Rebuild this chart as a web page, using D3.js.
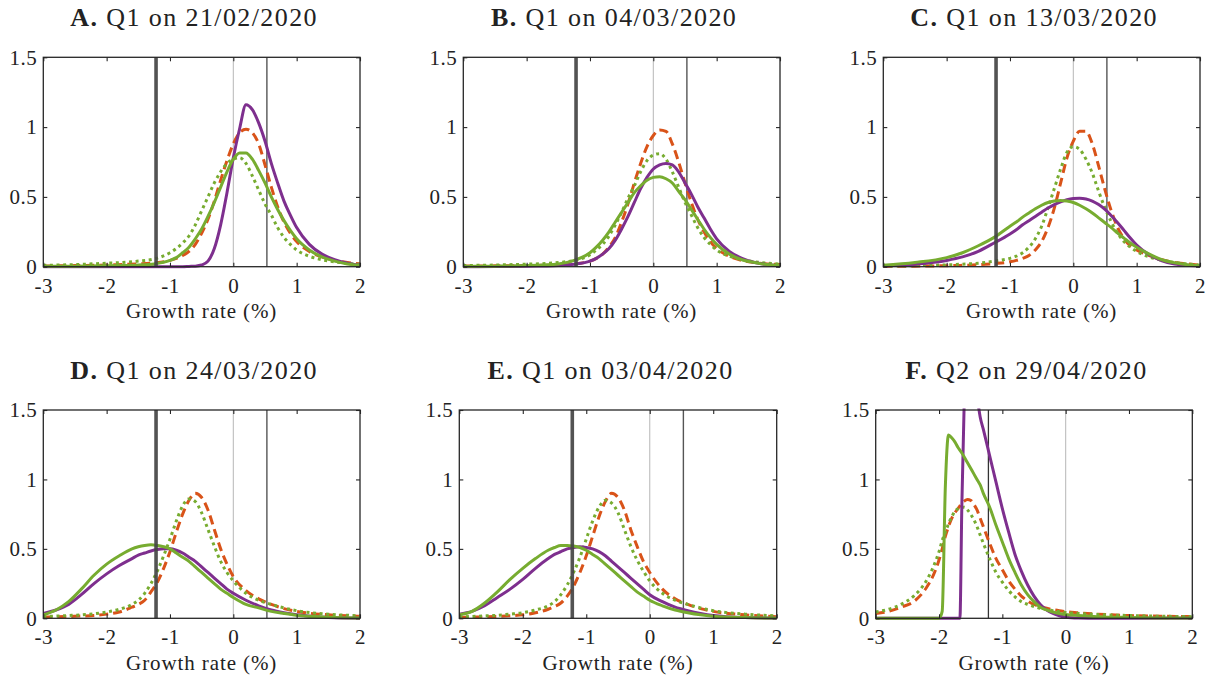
<!DOCTYPE html>
<html>
<head>
<meta charset="utf-8">
<script src="https://cdn.jsdelivr.net/npm/d3@7"></script>
<style>
  body { margin: 0; background: #fff; }
  svg { display: block; }
  text { font-family: "Liberation Serif", "Times New Roman", serif; fill: #222; }
</style>
</head>
<body>
<div id="chart"></div>
<script>
// chart size
const width = 1210,
  height = 680

// x grids (growth rate, %) the curves were read on
const gridABC = [-3, -2.5, -2, -1.75, -1.5, -1.25, -1, -0.9, -0.8, -0.7, -0.6, -0.5, -0.4, -0.3, -0.2, -0.1,
  0, 0.1, 0.2, 0.3, 0.4, 0.5, 0.6, 0.7, 0.8, 0.9, 1, 1.2, 1.4, 1.6, 1.8, 2]
const gridDE = [-3, -2.8, -2.6, -2.4, -2.2, -2, -1.8, -1.6, -1.5, -1.4, -1.3, -1.2, -1.1, -1, -0.9, -0.8,
  -0.7, -0.6, -0.5, -0.4, -0.3, -0.2, -0.1, 0, 0.2, 0.4, 0.6, 0.8, 1, 1.5, 2]
const gridF = [-3, -2.8, -2.6, -2.4, -2.2, -2.1, -2, -1.95, -1.9, -1.85, -1.8, -1.75, -1.7, -1.67, -1.64,
  -1.6, -1.55, -1.5, -1.45, -1.4, -1.35, -1.3, -1.2, -1.1, -1, -0.9, -0.8, -0.7, -0.6, -0.5, -0.4, -0.3,
  -0.2, -0.1, 0, 0.2, 0.5, 1, 1.5, 2]

// panel titles
const titleLetters = ['A.', 'B.', 'C.', 'D.', 'E.', 'F.']
const titleTexts = ['Q1 on 21/02/2020', 'Q1 on 04/03/2020', 'Q1 on 13/03/2020',
  'Q1 on 24/03/2020', 'Q1 on 03/04/2020', 'Q2 on 29/04/2020']

// ticks
const xTicks = [-3, -2, -1, 0, 1, 2]
const yTicks = [0, 0.5, 1, 1.5]
const xLabel = 'Growth rate (%)'

// reference lines
const refQ1 = [{ x: 0, kind: 'zero' }, { x: 0.53, kind: 'mid' }, { x: -1.22, kind: 'thick' }]
const refQ2 = [{ x: 0, kind: 'zero' }, { x: -1.22, kind: 'thin' }]

// densities, panel A
const purpleA = [0, 0, 0, 0, 0, 0, 0, 0, 0, 0.002, 0.004, 0.012, 0.04, 0.13, 0.3, 0.53, 0.78, 0.99, 1.16, 1.125,
  1.03, 0.9, 0.74, 0.6, 0.47, 0.37, 0.28, 0.16, 0.09, 0.05, 0.025, 0.01]
const orangeA = [0.005, 0.008, 0.012, 0.016, 0.02, 0.027, 0.045, 0.06, 0.08, 0.11, 0.16, 0.24, 0.34, 0.47, 0.62,
  0.76, 0.88, 0.96, 0.985, 0.96, 0.88, 0.73, 0.57, 0.43, 0.32, 0.24, 0.18, 0.11, 0.07, 0.045, 0.03, 0.02]
const greenA = [0.003, 0.004, 0.006, 0.008, 0.012, 0.02, 0.045, 0.065, 0.1, 0.14, 0.2, 0.27, 0.36, 0.46, 0.57,
  0.68, 0.77, 0.815, 0.815, 0.77, 0.69, 0.6, 0.5, 0.41, 0.33, 0.26, 0.2, 0.12, 0.07, 0.04, 0.02, 0.01]
const dottedA = [0.01, 0.015, 0.025, 0.03, 0.04, 0.055, 0.1, 0.13, 0.17, 0.22, 0.3, 0.4, 0.5, 0.6, 0.68, 0.74,
  0.77, 0.78, 0.74, 0.65, 0.55, 0.45, 0.37, 0.28, 0.21, 0.16, 0.12, 0.075, 0.05, 0.035, 0.025, 0.015]

// panel B
const purpleB = [0, 0.001, 0.003, 0.005, 0.008, 0.018, 0.04, 0.06, 0.09, 0.13, 0.19, 0.27, 0.36, 0.46, 0.56,
  0.64, 0.7, 0.73, 0.74, 0.73, 0.68, 0.6, 0.52, 0.43, 0.35, 0.27, 0.2, 0.11, 0.06, 0.03, 0.015, 0.005]
const orangeB = [0.005, 0.006, 0.008, 0.01, 0.013, 0.02, 0.04, 0.06, 0.09, 0.14, 0.21, 0.32, 0.45, 0.6, 0.74,
  0.86, 0.94, 0.98, 0.97, 0.88, 0.75, 0.6, 0.46, 0.34, 0.25, 0.18, 0.13, 0.075, 0.045, 0.03, 0.02, 0.015]
const greenB = [0.002, 0.004, 0.008, 0.012, 0.02, 0.045, 0.1, 0.14, 0.19, 0.25, 0.32, 0.39, 0.46, 0.53, 0.58,
  0.62, 0.64, 0.645, 0.63, 0.6, 0.54, 0.48, 0.41, 0.34, 0.27, 0.21, 0.16, 0.09, 0.05, 0.03, 0.015, 0.008]
const dottedB = [0.008, 0.012, 0.018, 0.022, 0.03, 0.045, 0.085, 0.12, 0.16, 0.22, 0.3, 0.39, 0.49, 0.58, 0.68,
  0.76, 0.8, 0.81, 0.77, 0.68, 0.57, 0.46, 0.37, 0.28, 0.21, 0.16, 0.12, 0.075, 0.05, 0.035, 0.025, 0.018]

// panel C
const purpleC = [0.005, 0.018, 0.045, 0.07, 0.11, 0.17, 0.235, 0.265, 0.3, 0.33, 0.36, 0.39, 0.42, 0.445, 0.465,
  0.48, 0.488, 0.49, 0.485, 0.47, 0.445, 0.41, 0.365, 0.315, 0.26, 0.205, 0.155, 0.085, 0.042, 0.02, 0.01, 0.005]
const orangeC = [0.002, 0.004, 0.007, 0.01, 0.014, 0.022, 0.035, 0.045, 0.06, 0.08, 0.12, 0.18, 0.28, 0.42, 0.6,
  0.78, 0.9, 0.97, 0.97, 0.88, 0.72, 0.55, 0.4, 0.28, 0.2, 0.15, 0.12, 0.08, 0.05, 0.03, 0.02, 0.01]
const greenC = [0.01, 0.03, 0.065, 0.1, 0.15, 0.21, 0.29, 0.32, 0.355, 0.385, 0.415, 0.44, 0.46, 0.47, 0.475,
  0.47, 0.46, 0.44, 0.415, 0.385, 0.35, 0.315, 0.28, 0.24, 0.205, 0.17, 0.14, 0.09, 0.05, 0.028, 0.014, 0.007]
const dottedC = [0.005, 0.008, 0.013, 0.018, 0.025, 0.04, 0.06, 0.075, 0.1, 0.14, 0.2, 0.29, 0.42, 0.56, 0.7,
  0.82, 0.86, 0.84, 0.77, 0.67, 0.54, 0.42, 0.32, 0.24, 0.18, 0.14, 0.11, 0.07, 0.045, 0.03, 0.02, 0.012]

// panel D
const purpleD = [0.035, 0.06, 0.1, 0.17, 0.25, 0.32, 0.38, 0.43, 0.455, 0.47, 0.485, 0.495, 0.5, 0.5, 0.49,
  0.47, 0.44, 0.41, 0.37, 0.33, 0.29, 0.25, 0.21, 0.18, 0.13, 0.09, 0.06, 0.04, 0.025, 0.006, 0.001]
const orangeD = [0.008, 0.01, 0.013, 0.016, 0.02, 0.03, 0.045, 0.08, 0.1, 0.13, 0.19, 0.26, 0.36, 0.48, 0.62,
  0.75, 0.85, 0.9, 0.87, 0.78, 0.64, 0.5, 0.39, 0.3, 0.2, 0.14, 0.1, 0.07, 0.05, 0.025, 0.015]
const greenD = [0.025, 0.06, 0.12, 0.21, 0.31, 0.39, 0.45, 0.5, 0.515, 0.525, 0.53, 0.525, 0.515, 0.5, 0.47,
  0.44, 0.41, 0.37, 0.33, 0.29, 0.25, 0.21, 0.18, 0.15, 0.1, 0.075, 0.05, 0.035, 0.022, 0.008, 0.003]
const dottedD = [0.012, 0.016, 0.02, 0.025, 0.033, 0.045, 0.065, 0.1, 0.13, 0.18, 0.25, 0.34, 0.45, 0.57, 0.7,
  0.81, 0.86, 0.84, 0.76, 0.64, 0.52, 0.41, 0.33, 0.27, 0.18, 0.13, 0.1, 0.075, 0.055, 0.03, 0.018]

// panel E
const purpleE = [0.03, 0.05, 0.09, 0.15, 0.21, 0.28, 0.36, 0.43, 0.46, 0.48, 0.5, 0.51, 0.515, 0.51, 0.5, 0.48,
  0.45, 0.41, 0.37, 0.33, 0.29, 0.25, 0.21, 0.17, 0.12, 0.08, 0.055, 0.035, 0.02, 0.005, 0.001]
const orangeE = [0.006, 0.008, 0.01, 0.013, 0.018, 0.025, 0.04, 0.065, 0.085, 0.11, 0.16, 0.23, 0.33, 0.45, 0.59,
  0.73, 0.84, 0.9, 0.87, 0.78, 0.64, 0.52, 0.41, 0.33, 0.21, 0.14, 0.1, 0.07, 0.05, 0.025, 0.012]
const greenE = [0.025, 0.05, 0.11, 0.19, 0.28, 0.36, 0.43, 0.49, 0.51, 0.525, 0.525, 0.52, 0.51, 0.49, 0.46,
  0.43, 0.39, 0.35, 0.31, 0.27, 0.23, 0.19, 0.16, 0.13, 0.09, 0.06, 0.04, 0.025, 0.015, 0.005, 0.002]
const dottedE = [0.01, 0.013, 0.017, 0.022, 0.03, 0.04, 0.06, 0.09, 0.12, 0.17, 0.24, 0.33, 0.44, 0.57, 0.7, 0.8,
  0.85, 0.83, 0.76, 0.64, 0.52, 0.42, 0.34, 0.27, 0.18, 0.13, 0.1, 0.075, 0.055, 0.03, 0.018]

// panel F
const purpleF = [0, 0, 0, 0, 0, 0, 0, 0, 0, 0, 0, 0, 0, 0, 0.8, 1.6, 1.9, 1.85, 1.75, 1.6, 1.45, 1.36, 1.17, 0.98,
  0.79, 0.62, 0.46, 0.34, 0.24, 0.16, 0.1, 0.06, 0.035, 0.018, 0.008, 0.002, 0, 0, 0, 0]
const orangeF = [0.035, 0.05, 0.08, 0.12, 0.22, 0.3, 0.42, 0.5, 0.59, 0.66, 0.72, 0.76, 0.79, 0.81, 0.83, 0.845,
  0.855, 0.85, 0.82, 0.78, 0.72, 0.66, 0.54, 0.43, 0.35, 0.27, 0.21, 0.16, 0.125, 0.1, 0.085, 0.072, 0.062,
  0.055, 0.048, 0.04, 0.03, 0.02, 0.015, 0.012]
const greenF = [0, 0, 0, 0, 0, 0, 0, 0.05, 0.95, 1.32, 1.3, 1.27, 1.23, 1.21, 1.19, 1.16, 1.12, 1.08, 1.04, 1.0,
  0.96, 0.9, 0.8, 0.67, 0.55, 0.43, 0.33, 0.24, 0.17, 0.12, 0.08, 0.06, 0.045, 0.035, 0.028, 0.02, 0.012,
  0.006, 0.003, 0.002]
const dottedF = [0.045, 0.065, 0.1, 0.16, 0.27, 0.36, 0.48, 0.56, 0.62, 0.68, 0.73, 0.77, 0.79, 0.8, 0.8, 0.8,
  0.78, 0.75, 0.71, 0.66, 0.6, 0.54, 0.43, 0.33, 0.26, 0.2, 0.155, 0.12, 0.1, 0.085, 0.072, 0.062, 0.055,
  0.048, 0.042, 0.035, 0.028, 0.02, 0.015, 0.012]

// panel table built from the arrays above
const panelData = [
  { grid: gridABC, purple: purpleA, orange: orangeA, green: greenA, dotted: dottedA, refs: refQ1 },
  { grid: gridABC, purple: purpleB, orange: orangeB, green: greenB, dotted: dottedB, refs: refQ1 },
  { grid: gridABC, purple: purpleC, orange: orangeC, green: greenC, dotted: dottedC, refs: refQ1 },
  { grid: gridDE, purple: purpleD, orange: orangeD, green: greenD, dotted: dottedD, refs: refQ1 },
  { grid: gridDE, purple: purpleE, orange: orangeE, green: greenE, dotted: dottedE, refs: refQ1 },
  { grid: gridF, purple: purpleF, orange: orangeF, green: greenF, dotted: dottedF, refs: refQ2 }
]

// layout of each axes box: left, top, right, bottom
const boxes = [
  [43.3, 57.3, 360, 266.7], [463.3, 57.3, 780, 266.7], [883.3, 57.3, 1200, 266.7],
  [43.3, 410, 360, 618.3], [459.3, 410, 776.7, 618.3], [875.7, 410, 1192.3, 618.3]
]

const seriesStyle = {
  orange: { color: '#D95319', dash: '9,5' },
  dotted: { color: '#77AC30', dash: '3,3.6' },
  purple: { color: '#7E2F8E', dash: null },
  green: { color: '#77AC30', dash: null }
}
const refStyle = {
  zero: { color: '#bdbdbd', w: 1.1 },
  mid: { color: '#555', w: 1.4 },
  thin: { color: '#333', w: 1.3 },
  thick: { color: '#444', w: 3.6 }
}

let svg = d3.select('#chart')
  .append('svg')
  .attr('width', width)
  .attr('height', height)

panelData.forEach((p, i) => {
  const [l, t, r, b] = boxes[i]
  const w = r - l,
    h = b - t

  const xScale = d3.scaleLinear().domain([-3, 2]).range([0, w])
  const yScale = d3.scaleLinear().domain([0, 1.5]).range([h, 0])

  let g = svg.append('g').attr('transform', `translate(${l}, ${t})`)

  g.append('clipPath').attr('id', 'clip' + i)
    .append('rect')
    .attr('x', -2).attr('y', -1.5)
    .attr('width', w + 4).attr('height', h + 3.5)

  // lines under the curves
  p.refs.filter(d => d.kind !== 'thick').forEach(d => {
    g.append('line')
      .attr('x1', xScale(d.x)).attr('x2', xScale(d.x))
      .attr('y1', 0).attr('y2', h)
      .attr('stroke', refStyle[d.kind].color)
      .attr('stroke-width', refStyle[d.kind].w)
  })

  const line = d3.line()
    .x((d, j) => xScale(p.grid[j]))
    .y(d => yScale(d))
    .curve(d3.curveMonotoneX)

  let curves = g.append('g').attr('clip-path', `url(#clip${i})`)
  ;['orange', 'dotted', 'purple', 'green'].forEach(key => {
    curves.append('path')
      .attr('d', line(p[key]))
      .attr('fill', 'none')
      .attr('stroke', seriesStyle[key].color)
      .attr('stroke-width', 3)
      .attr('stroke-linejoin', 'round')
      .attr('stroke-dasharray', seriesStyle[key].dash)
  })

  // thick line on top
  p.refs.filter(d => d.kind === 'thick').forEach(d => {
    g.append('line')
      .attr('x1', xScale(d.x)).attr('x2', xScale(d.x))
      .attr('y1', 0).attr('y2', h)
      .attr('stroke', refStyle.thick.color)
      .attr('stroke-opacity', 0.92)
      .attr('stroke-width', refStyle.thick.w)
  })

  // axes, ticks inside on every side
  const bottom = g.append('g')
    .attr('transform', `translate(0, ${h})`)
    .call(d3.axisBottom(xScale).tickValues(xTicks).tickSizeInner(-4).tickSizeOuter(0)
      .tickPadding(11).tickFormat(d => String(d)))
  const left = g.append('g')
    .call(d3.axisLeft(yScale).tickValues(yTicks).tickSizeInner(-4).tickSizeOuter(0)
      .tickPadding(6).tickFormat(d => String(d)))
  const top = g.append('g')
    .call(d3.axisTop(xScale).tickValues(xTicks).tickSizeInner(-4).tickSizeOuter(0).tickFormat(''))
  const right = g.append('g')
    .attr('transform', `translate(${w}, 0)`)
    .call(d3.axisRight(yScale).tickValues(yTicks).tickSizeInner(-4).tickSizeOuter(0).tickFormat(''))

  ;[bottom, left, top, right].forEach(ax => {
    ax.select('.domain').remove()
    ax.selectAll('line').attr('stroke', '#262626').attr('stroke-width', 1.1)
    ax.selectAll('text')
      .attr('fill', '#262626')
      .style('font-family', '"Liberation Serif", serif')
      .style('font-size', '21px')
      .style('letter-spacing', '0.5px')
  })

  g.append('rect')
    .attr('width', w).attr('height', h)
    .attr('fill', 'none')
    .attr('stroke', '#262626')
    .attr('stroke-width', 1.3)

  g.append('text')
    .attr('x', w / 2)
    .attr('y', h + 51.8)
    .attr('text-anchor', 'middle')
    .style('font-size', '21px')
    .style('letter-spacing', '0.9px')
    .attr('fill', '#262626')
    .text(xLabel)

  let title = g.append('text')
    .attr('x', w / 2 - 7.5)
    .attr('y', -31)
    .attr('text-anchor', 'middle')
    .style('font-size', '26px')
    .style('letter-spacing', '1.4px')
    .attr('fill', '#111')
  title.append('tspan').style('font-weight', 'bold').text(titleLetters[i])
  title.append('tspan').text(' ' + titleTexts[i])
})
</script>
</body>
</html>
